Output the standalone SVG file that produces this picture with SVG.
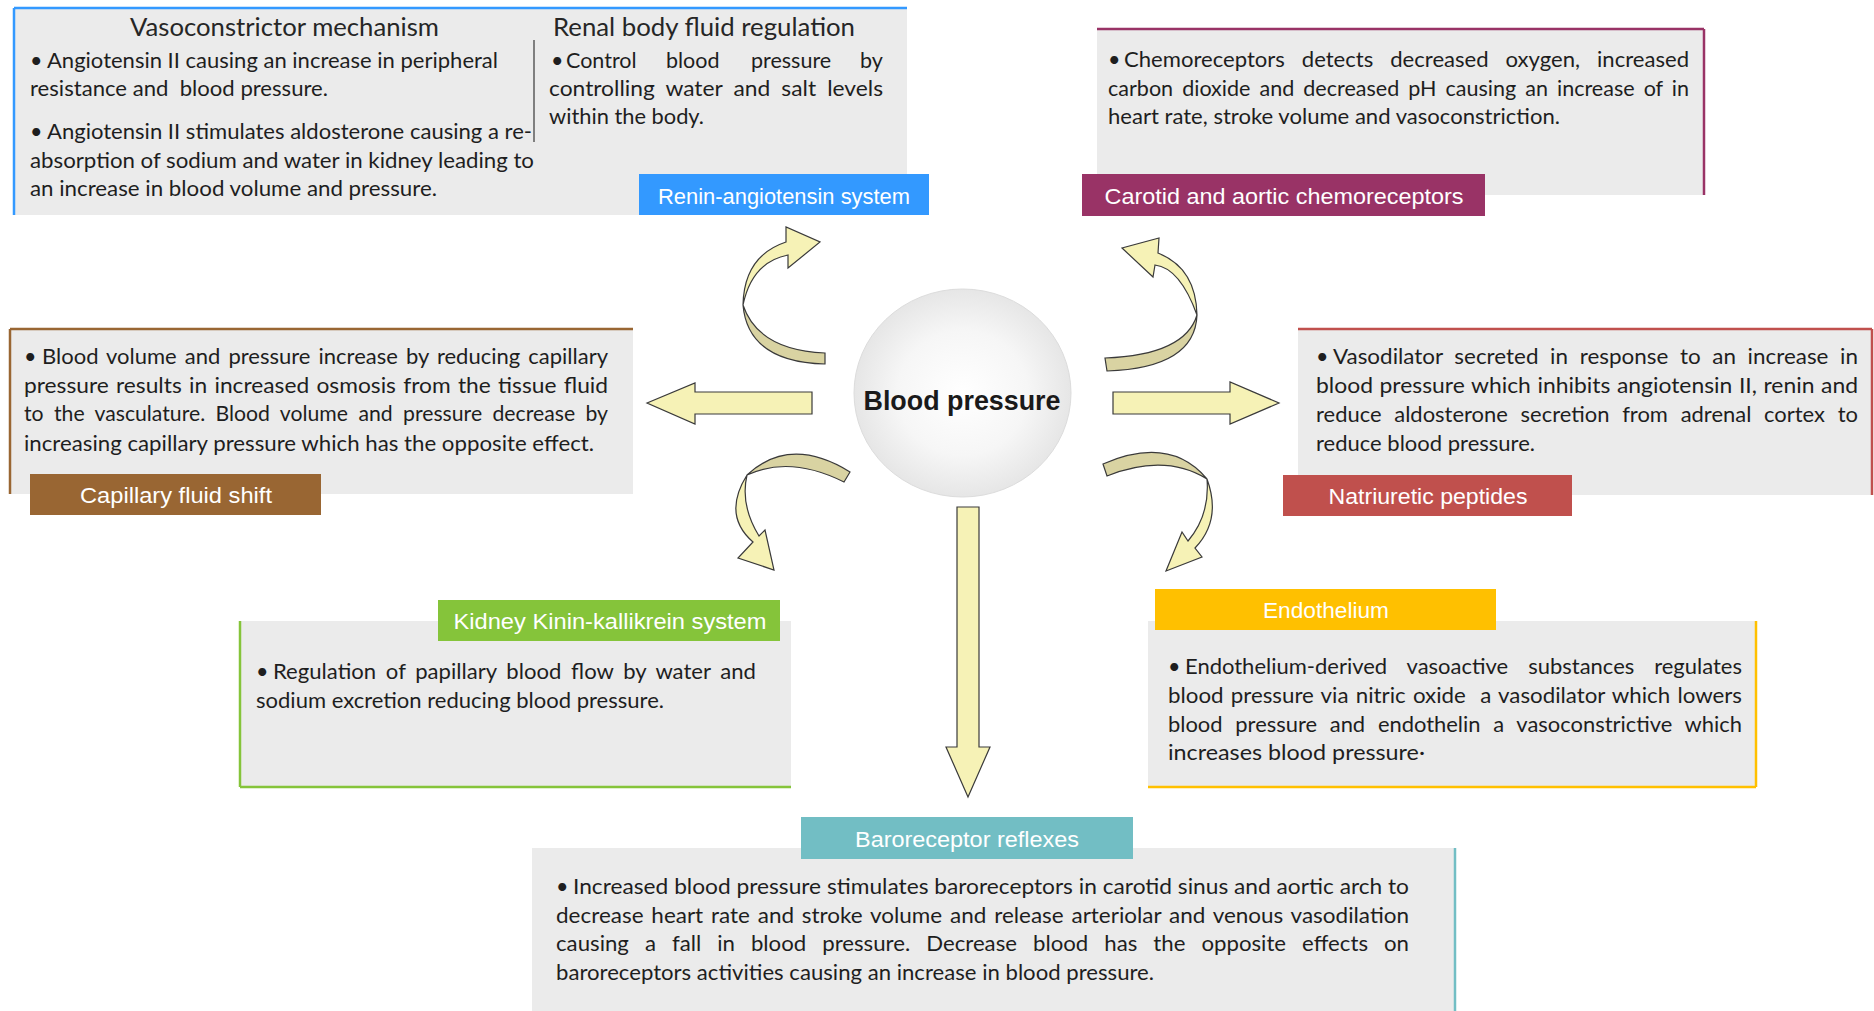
<svg xmlns="http://www.w3.org/2000/svg" width="1874" height="1011" viewBox="0 0 1874 1011">
<defs>
<radialGradient id="bpg" cx="0.5" cy="0.5" r="0.5">
<stop offset="0" stop-color="#ffffff"/>
<stop offset="0.6" stop-color="#f6f6f6"/>
<stop offset="1" stop-color="#e6e6e6"/>
</radialGradient>
</defs>
<style>
.box{fill:#ebebeb}
.t{font-family:Lato,"Liberation Sans",sans-serif;font-size:21.5px;fill:#1e1e1e;white-space:pre}
.ttl{font-family:Lato,"Liberation Sans",sans-serif;font-size:25px;fill:#262626;text-anchor:middle}
.lbl{font-family:"Liberation Sans",Arial,sans-serif;font-size:22px;fill:#ffffff;text-anchor:middle}
.arw{fill:#f6f2b6;stroke:#3a3a3a;stroke-width:1.2;stroke-linejoin:miter}
.drk{fill:#d9d3a2;stroke:#3a3a3a;stroke-width:1.2}
</style>
<rect width="1874" height="1011" fill="#ffffff"/>

<g id="connectors">
<polygon class="arw" points="647,403 695,383 695,392 812,392 812,414 695,414 695,424"/>
<polygon class="arw" points="1113,392 1230,392 1230,382 1279,403 1230,424 1230,414 1113,414"/>
<polygon class="arw" points="957,507 979,507 979,747 990,747 968,797 946,747 957,747"/>
<path class="drk" d="M743,305 Q748,362 825,364 L825,353 Q758,350 743,305 Z"/>
<path class="arw" d="M788,255 L788,268 L820,242 L786,227 L786,242 Q744,256 743,305 Q752,262 788,255 Z"/>
<path class="drk" d="M1197,315 Q1195,368 1107,371 L1105,358 Q1185,355 1197,315 Z"/>
<path class="arw" d="M1155,265 L1153,277 L1122,248 L1159,238 L1158,253 Q1196,268 1197,315 Q1180,268 1155,265 Z"/>
<path class="drk" d="M850,472 Q790,435 747,475 Q790,455 844,482 Z"/>
<path class="arw" d="M747,475 Q722,515 753,542 L738,558 L774,570 L765,530 L759,536 Q740,505 747,475 Z"/>
<path class="drk" d="M1103,464 Q1170,435 1207,479 Q1165,453 1107,476 Z"/>
<path class="arw" d="M1207,479 Q1222,520 1195,548 L1202,557 L1166,571 L1182,532 L1188,541 Q1210,515 1207,479 Z"/>
</g>

<g id="blood-pressure">
<ellipse cx="962.5" cy="393" rx="108.5" ry="104" fill="url(#bpg)" stroke="#dcdcdc" stroke-width="1"/>
<text x="962" y="410" text-anchor="middle" font-family="'Liberation Sans',Arial,sans-serif" font-size="27" font-weight="bold" fill="#1a1a1a" textLength="197" lengthAdjust="spacingAndGlyphs">Blood pressure</text>
</g>

<g id="renin-angiotensin">
<rect class="box" x="14" y="8" width="893" height="207"/>
<line x1="14" y1="8" x2="907" y2="8" stroke="#3399ff" stroke-width="2.5"/>
<line x1="14" y1="8" x2="14" y2="215" stroke="#3399ff" stroke-width="2.5"/>
<line x1="534" y1="40" x2="534" y2="142" stroke="#7f7f7f" stroke-width="2"/>
<text class="ttl" x="284.5" y="36" textLength="309" lengthAdjust="spacingAndGlyphs">Vasoconstrictor mechanism</text>
<text class="ttl" x="704" y="36" textLength="302" lengthAdjust="spacingAndGlyphs">Renal body fluid regulation</text>
<text class="t" x="30" y="68">•</text>
<text class="t" x="47" y="68" textLength="451" lengthAdjust="spacingAndGlyphs">Angiotensin II causing an increase in peripheral</text>
<text class="t" x="30" y="96" textLength="298" lengthAdjust="spacingAndGlyphs">resistance and  blood pressure.</text>
<text class="t" x="30" y="139">•</text>
<text class="t" x="47" y="139" textLength="485" lengthAdjust="spacingAndGlyphs">Angiotensin II stimulates aldosterone causing a re-</text>
<text class="t" x="30" y="168" textLength="504" lengthAdjust="spacingAndGlyphs">absorption of sodium and water in kidney leading to</text>
<text class="t" x="30" y="196" textLength="407" lengthAdjust="spacingAndGlyphs">an increase in blood volume and pressure.</text>
<text class="t" y="68"><tspan x="551">•</tspan><tspan x="566">Control</tspan><tspan x="666">blood</tspan><tspan x="751">pressure</tspan><tspan x="860">by</tspan></text>
<text class="t" x="549" y="96" textLength="334" lengthAdjust="spacingAndGlyphs" style="word-spacing:5px">controlling water and salt levels</text>
<text class="t" x="549" y="124" textLength="155" lengthAdjust="spacingAndGlyphs">within the body.</text>
<rect x="639" y="174" width="290" height="41" fill="#3399ff"/>
<text class="lbl" x="784" y="204" textLength="252" lengthAdjust="spacingAndGlyphs">Renin-angiotensin system</text>
</g>

<g id="chemoreceptors">
<rect class="box" x="1097" y="29" width="607" height="166"/>
<line x1="1097" y1="29" x2="1704" y2="29" stroke="#993366" stroke-width="2.5"/>
<line x1="1704" y1="29" x2="1704" y2="195" stroke="#993366" stroke-width="2.5"/>
<text class="t" x="1108" y="67">•</text>
<text class="t" x="1124" y="67" textLength="565" lengthAdjust="spacingAndGlyphs" style="word-spacing:11px">Chemoreceptors detects decreased oxygen, increased</text>
<text class="t" x="1108" y="96" textLength="581" lengthAdjust="spacingAndGlyphs" style="word-spacing:3.5px">carbon dioxide and decreased pH causing an increase of in</text>
<text class="t" x="1108" y="124" textLength="452" lengthAdjust="spacingAndGlyphs">heart rate, stroke volume and vasoconstriction.</text>
<rect x="1082" y="174" width="403" height="42" fill="#993366"/>
<text class="lbl" x="1284" y="204" textLength="359" lengthAdjust="spacingAndGlyphs">Carotid and aortic chemoreceptors</text>
</g>

<g id="capillary-fluid-shift">
<rect class="box" x="10" y="329" width="623" height="165"/>
<line x1="10" y1="329" x2="633" y2="329" stroke="#996633" stroke-width="2.5"/>
<line x1="10" y1="329" x2="10" y2="494" stroke="#996633" stroke-width="2.5"/>
<text class="t" x="24" y="364">•</text>
<text class="t" x="42" y="364" textLength="566" lengthAdjust="spacingAndGlyphs" style="word-spacing:2.4px">Blood volume and pressure increase by reducing capillary</text>
<text class="t" x="24" y="393" textLength="584" lengthAdjust="spacingAndGlyphs" style="word-spacing:1.4px">pressure results in increased osmosis from the tissue fluid</text>
<text class="t" x="24" y="421" textLength="584" lengthAdjust="spacingAndGlyphs" style="word-spacing:5px">to the vasculature. Blood volume and pressure decrease by</text>
<text class="t" x="24" y="451" textLength="570" lengthAdjust="spacingAndGlyphs">increasing capillary pressure which has the opposite effect.</text>
<rect x="30" y="474" width="291" height="41" fill="#996633"/>
<text class="lbl" x="176" y="503" textLength="192" lengthAdjust="spacingAndGlyphs">Capillary fluid shift</text>
</g>

<g id="natriuretic-peptides">
<rect class="box" x="1298" y="329" width="574" height="166"/>
<line x1="1298" y1="329" x2="1872" y2="329" stroke="#c0504d" stroke-width="2.5"/>
<line x1="1872" y1="329" x2="1872" y2="495" stroke="#c0504d" stroke-width="2.5"/>
<text class="t" x="1316" y="364">•</text>
<text class="t" x="1333" y="364" textLength="525" lengthAdjust="spacingAndGlyphs" style="word-spacing:5.7px">Vasodilator secreted in response to an increase in</text>
<text class="t" x="1316" y="393" textLength="542" lengthAdjust="spacingAndGlyphs" style="word-spacing:0.7px">blood pressure which inhibits angiotensin II, renin and</text>
<text class="t" x="1316" y="422" textLength="542" lengthAdjust="spacingAndGlyphs" style="word-spacing:7px">reduce aldosterone secretion from adrenal cortex to</text>
<text class="t" x="1316" y="451" textLength="219" lengthAdjust="spacingAndGlyphs">reduce blood pressure.</text>
<rect x="1283" y="475" width="289" height="41" fill="#c0504d"/>
<text class="lbl" x="1428" y="504" textLength="199" lengthAdjust="spacingAndGlyphs">Natriuretic peptides</text>
</g>

<g id="kinin-kallikrein">
<rect class="box" x="240" y="621" width="551" height="166"/>
<line x1="240" y1="621" x2="240" y2="787" stroke="#85c43a" stroke-width="2.5"/>
<line x1="240" y1="787" x2="791" y2="787" stroke="#85c43a" stroke-width="2.5"/>
<text class="t" x="256" y="679">•</text>
<text class="t" x="273" y="679" textLength="483" lengthAdjust="spacingAndGlyphs" style="word-spacing:4px">Regulation of papillary blood flow by water and</text>
<text class="t" x="256" y="708" textLength="408" lengthAdjust="spacingAndGlyphs">sodium excretion reducing blood pressure.</text>
<rect x="438" y="600" width="342" height="41" fill="#85c43a"/>
<text class="lbl" x="610" y="629" textLength="313" lengthAdjust="spacingAndGlyphs">Kidney Kinin-kallikrein system</text>
</g>

<g id="endothelium">
<rect class="box" x="1148" y="621" width="608" height="166"/>
<line x1="1756" y1="621" x2="1756" y2="787" stroke="#ffc000" stroke-width="2.5"/>
<line x1="1148" y1="787" x2="1756" y2="787" stroke="#ffc000" stroke-width="2.5"/>
<text class="t" x="1168" y="674">•</text>
<text class="t" x="1185" y="674" textLength="557" lengthAdjust="spacingAndGlyphs" style="word-spacing:14px">Endothelium-derived vasoactive substances regulates</text>
<text class="t" x="1168" y="703" textLength="574" lengthAdjust="spacingAndGlyphs" style="word-spacing:1.5px">blood pressure via nitric oxide  a vasodilator which lowers</text>
<text class="t" x="1168" y="732" textLength="574" lengthAdjust="spacingAndGlyphs" style="word-spacing:7px">blood pressure and endothelin a vasoconstrictive which</text>
<text class="t" x="1168" y="760" textLength="257" lengthAdjust="spacingAndGlyphs">increases blood pressure·</text>
<rect x="1155" y="589" width="341" height="41" fill="#ffc000"/>
<text class="lbl" x="1326" y="618" textLength="126" lengthAdjust="spacingAndGlyphs">Endothelium</text>
</g>

<g id="baroreceptor-reflexes">
<rect class="box" x="532" y="848" width="923" height="163"/>
<line x1="1455" y1="848" x2="1455" y2="1011" stroke="#72bec4" stroke-width="2.5"/>
<text class="t" x="556" y="894">•</text>
<text class="t" x="573" y="894" textLength="836" lengthAdjust="spacingAndGlyphs">Increased blood pressure stimulates baroreceptors in carotid sinus and aortic arch to</text>
<text class="t" x="556" y="923" textLength="853" lengthAdjust="spacingAndGlyphs" style="word-spacing:2px">decrease heart rate and stroke volume and release arteriolar and venous vasodilation</text>
<text class="t" x="556" y="951" textLength="853" lengthAdjust="spacingAndGlyphs" style="word-spacing:10px">causing a fall in blood pressure. Decrease blood has the opposite effects on</text>
<text class="t" x="556" y="980" textLength="598" lengthAdjust="spacingAndGlyphs">baroreceptors activities causing an increase in blood pressure.</text>
<rect x="801" y="817" width="332" height="42" fill="#72bec4"/>
<text class="lbl" x="967" y="847" textLength="224" lengthAdjust="spacingAndGlyphs">Baroreceptor reflexes</text>
</g>
</svg>
